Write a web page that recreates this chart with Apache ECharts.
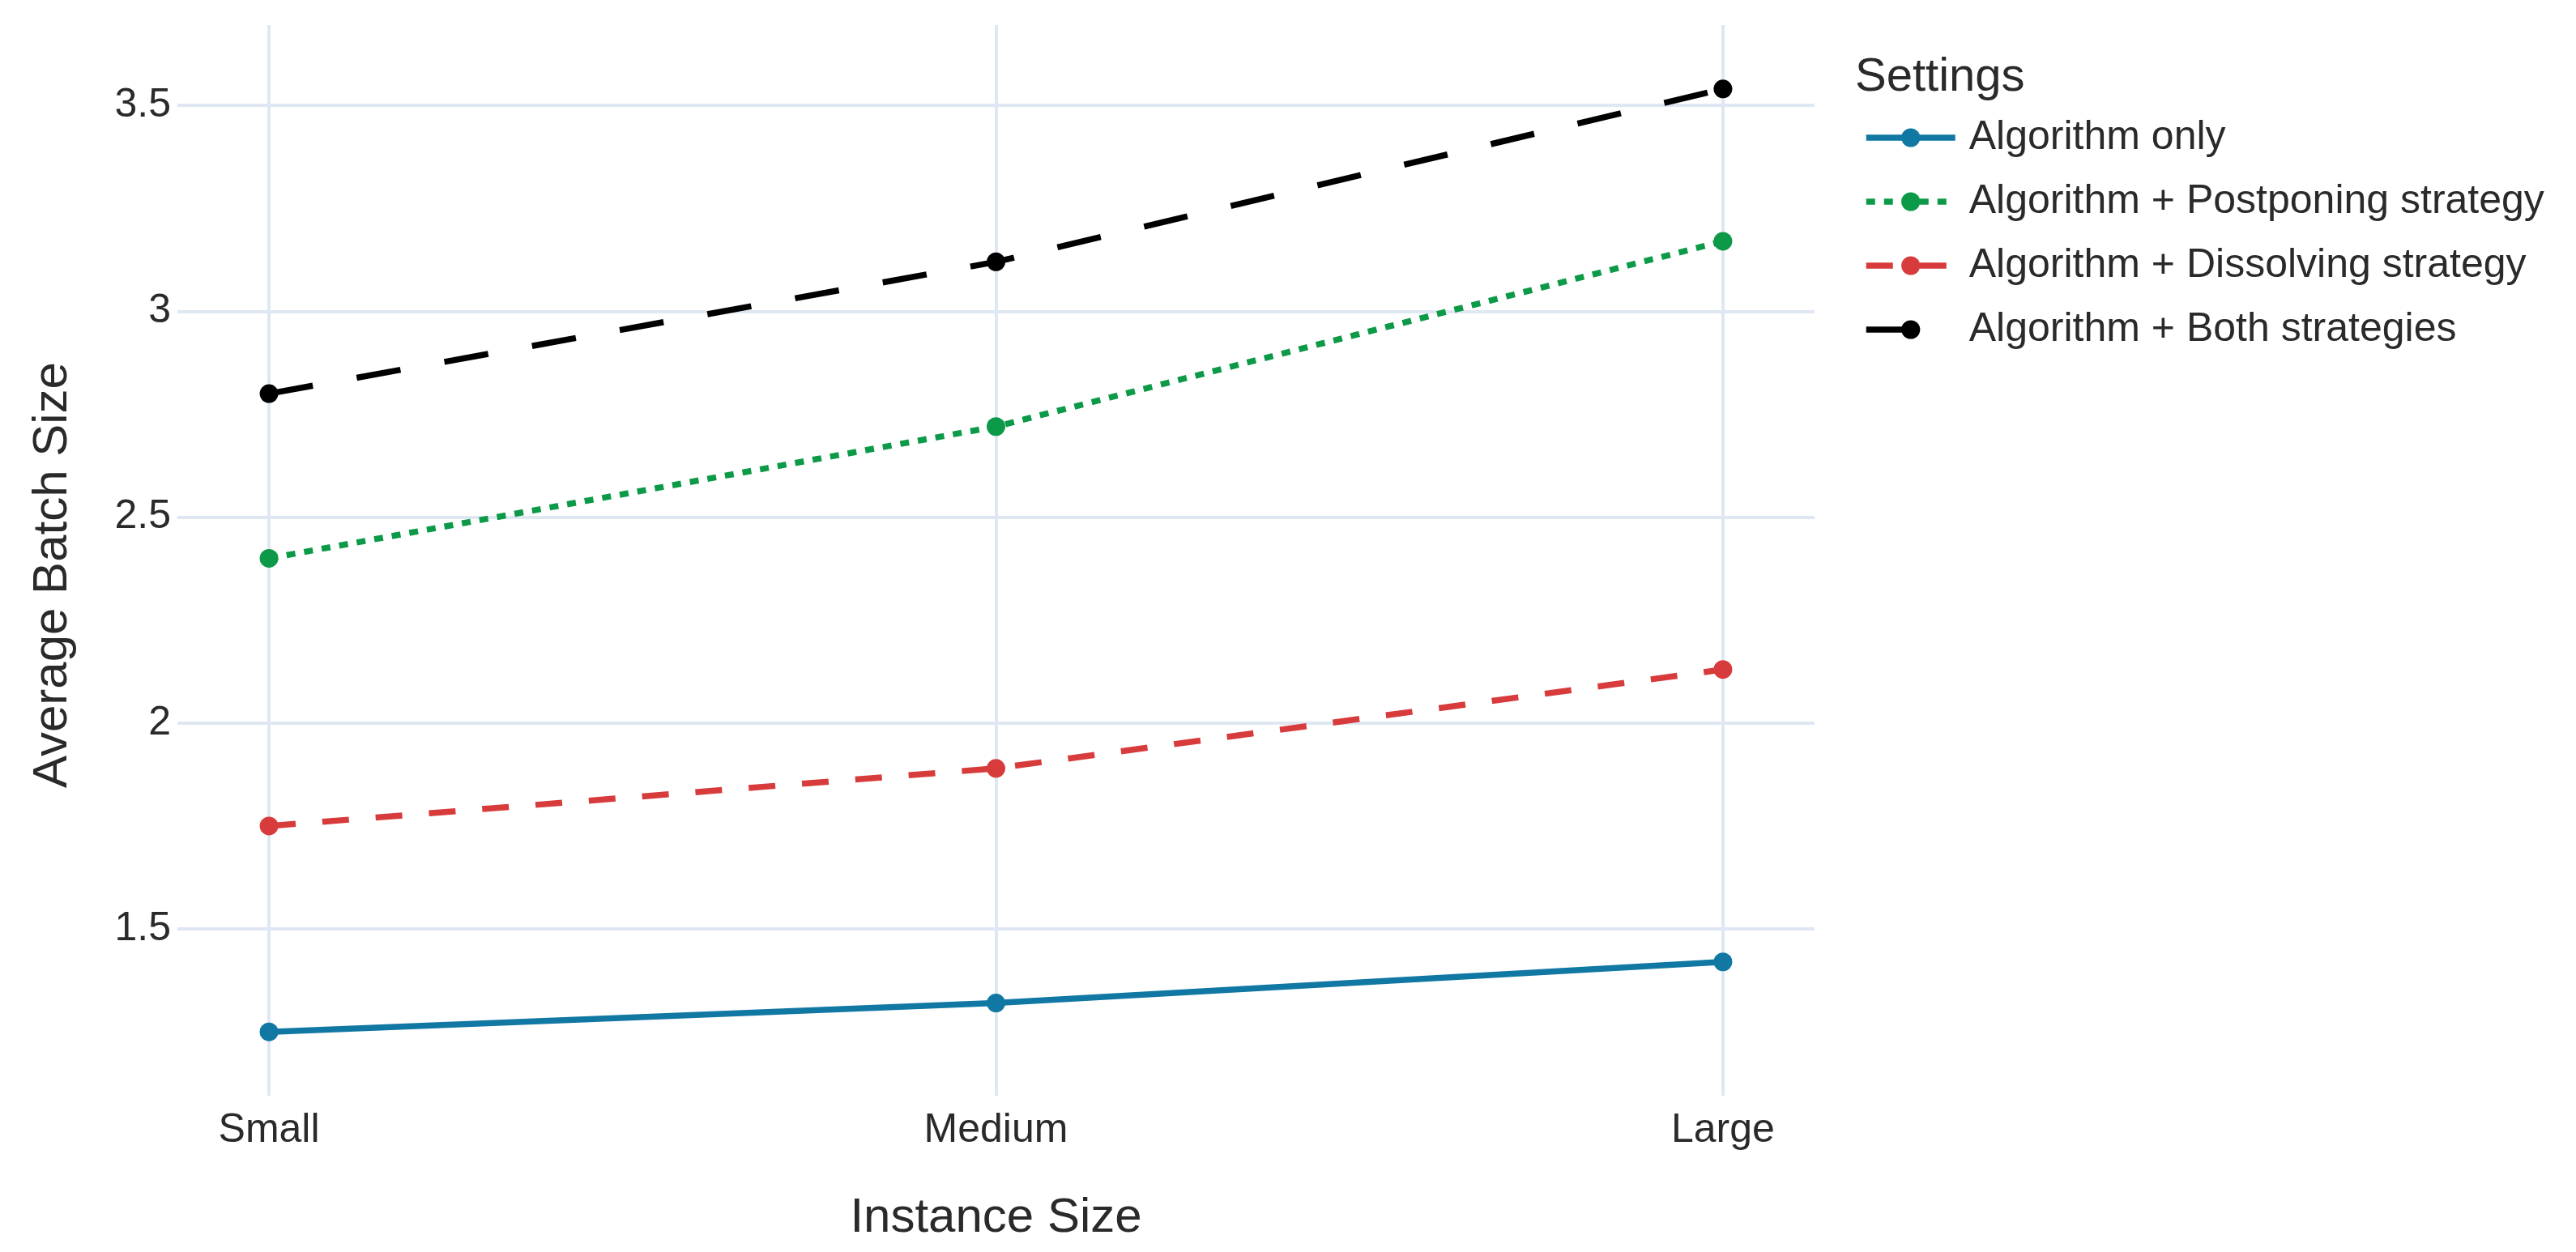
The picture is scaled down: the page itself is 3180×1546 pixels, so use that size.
<!DOCTYPE html>
<html>
<head>
<meta charset="utf-8">
<script src="https://cdn.jsdelivr.net/npm/echarts@6/dist/echarts.min.js"></script>
<style>
html,body{margin:0;padding:0;background:#fff;}
#chart{width:3180px;height:1546px;}
</style>
</head>
<body>
<div id="chart"></div>
<script>
const categories = ['Small', 'Medium', 'Large'];
const yTicks = [1.5, 2, 2.5, 3, 3.5];
const algorithmOnly = [1.25, 1.32, 1.42];
const postponing = [2.40, 2.72, 3.17];
const dissolving = [1.75, 1.89, 2.13];
const bothStrategies = [2.80, 3.12, 3.54];
const seriesNames = [
  'Algorithm only',
  'Algorithm + Postponing strategy',
  'Algorithm + Dissolving strategy',
  'Algorithm + Both strategies'
];

const FONT = 'Liberation Sans, Arial, sans-serif';
const TXT = '#2a2a2a';
const GRID = '#dfe7f3';
const LW = 7.5;

function pts(arr) { return arr.map((v, i) => [i, v]); }

function mk(name, data, color, dash) {
  return {
    name: name,
    type: 'line',
    data: pts(data),
    symbol: 'circle',
    symbolSize: 23,
    showSymbol: true,
    itemStyle: { color: color },
    lineStyle: { color: color, width: LW, type: dash, cap: 'butt' },
    emphasis: { disabled: true },
    z: 3
  };
}

const chart = echarts.init(document.getElementById('chart'), null, { renderer: 'canvas' });
chart.setOption({
  animation: false,
  backgroundColor: '#ffffff',
  textStyle: { fontFamily: FONT },
  title: {
    text: 'Settings',
    left: 2290,
    top: 64,
    padding: 0,
    textStyle: { fontFamily: FONT, fontSize: 58, fontWeight: 'normal', color: TXT, lineHeight: 64 }
  },
  legend: {
    orient: 'vertical',
    left: 2300,
    top: 145,
    padding: 0,
    itemWidth: 110,
    itemHeight: 29,
    itemGap: 29,
    data: seriesNames,
    lineStyle: { width: LW },
    textStyle: { fontFamily: FONT, fontSize: 50, color: TXT, lineHeight: 50, padding: [0, 0, 0, 12] }
  },
  grid: { left: 219, right: 940, top: 31, bottom: 193, containLabel: false },
  xAxis: {
    type: 'value',
    min: -0.126,
    max: 2.126,
    name: 'Instance Size',
    nameLocation: 'middle',
    nameGap: 121,
    nameTextStyle: { fontFamily: FONT, fontSize: 60, color: TXT },
    axisLine: { show: false },
    axisTick: { show: false, customValues: [0, 1, 2] },
    axisLabel: {
      customValues: [0, 1, 2],
      formatter: v => categories[Math.round(v)],
      fontFamily: FONT, fontSize: 50, color: TXT, margin: 18
    },
    splitLine: { show: true, lineStyle: { color: GRID, width: 4 } }
  },
  yAxis: {
    type: 'value',
    min: 1.095,
    max: 3.695,
    name: 'Average Batch Size',
    nameLocation: 'middle',
    nameGap: 124,
    nameTextStyle: { fontFamily: FONT, fontSize: 60, color: TXT, padding: [0, 36, 0, 0] },
    axisLine: { show: false },
    axisTick: { show: false, customValues: yTicks },
    axisLabel: {
      customValues: yTicks,
      formatter: v => String(v),
      fontFamily: FONT, fontSize: 50, color: TXT, margin: 8
    },
    splitLine: { show: true, lineStyle: { color: GRID, width: 4 } }
  },
  series: [
    mk(seriesNames[0], algorithmOnly, '#1178a3', 'solid'),
    mk(seriesNames[1], postponing, '#0d9a48', [11, 11]),
    mk(seriesNames[2], dissolving, '#d83b3b', [33, 33]),
    mk(seriesNames[3], bothStrategies, '#000000', [55, 55])
  ]
});
</script>
</body>
</html>
